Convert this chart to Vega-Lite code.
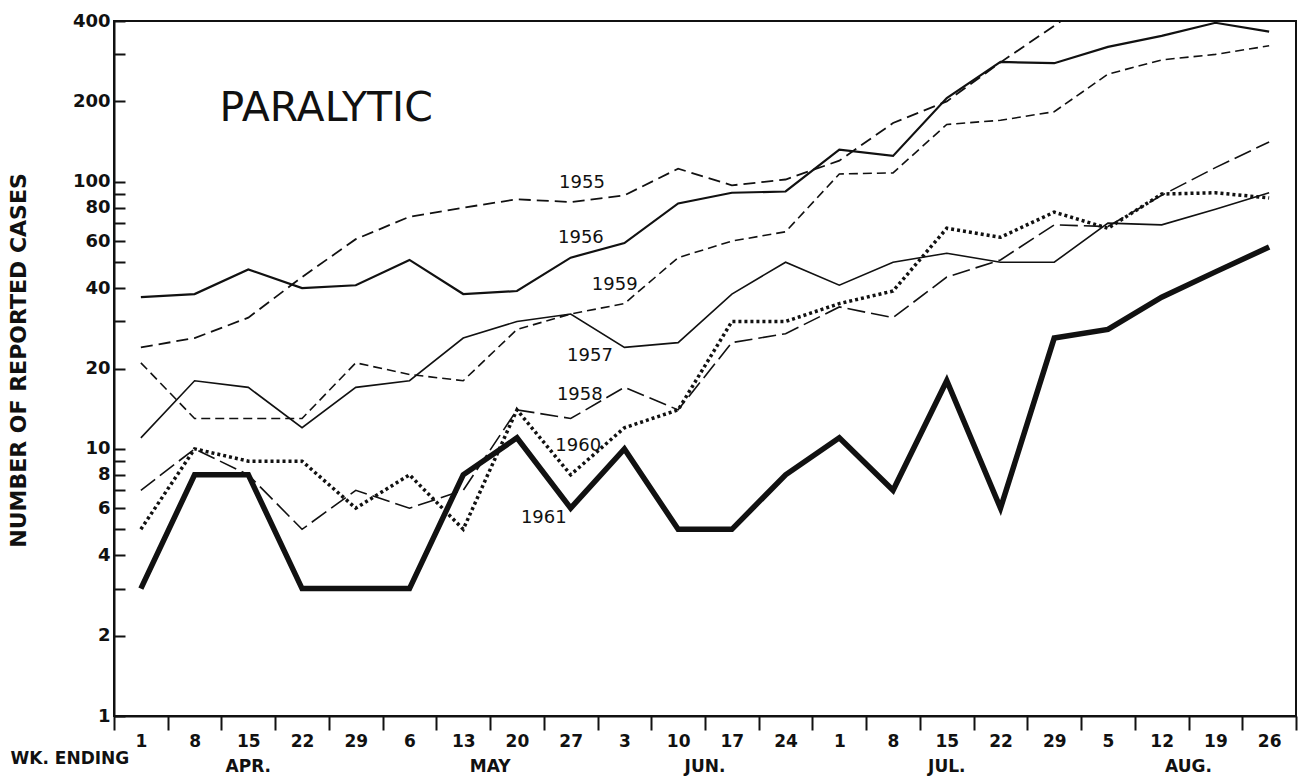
{
  "$schema": "https://vega.github.io/schema/vega-lite/v6.json",
  "autosize": {"type": "none"},
  "padding": {"left": 114, "top": 21, "right": 18, "bottom": 64},
  "width": 1182,
  "height": 695,
  "background": "#ffffff",
  "config": {"view": {"stroke": "#111111", "strokeWidth": 2}, "font": "DejaVu Sans"},
  "datasets": {
    "cases": [
      {"year":"1955","wk":0,"cases":24},{"year":"1955","wk":1,"cases":26},{"year":"1955","wk":2,"cases":31},{"year":"1955","wk":3,"cases":44},{"year":"1955","wk":4,"cases":61},{"year":"1955","wk":5,"cases":74},{"year":"1955","wk":6,"cases":80},{"year":"1955","wk":7,"cases":86},{"year":"1955","wk":8,"cases":84},{"year":"1955","wk":9,"cases":89},{"year":"1955","wk":10,"cases":112},{"year":"1955","wk":11,"cases":97},{"year":"1955","wk":12,"cases":102},{"year":"1955","wk":13,"cases":120},{"year":"1955","wk":14,"cases":166},{"year":"1955","wk":15,"cases":200},{"year":"1955","wk":16,"cases":280},{"year":"1955","wk":17,"cases":384},{"year":"1955","wk":18,"cases":530},
      {"year":"1956","wk":0,"cases":37},{"year":"1956","wk":1,"cases":38},{"year":"1956","wk":2,"cases":47},{"year":"1956","wk":3,"cases":40},{"year":"1956","wk":4,"cases":41},{"year":"1956","wk":5,"cases":51},{"year":"1956","wk":6,"cases":38},{"year":"1956","wk":7,"cases":39},{"year":"1956","wk":8,"cases":52},{"year":"1956","wk":9,"cases":59},{"year":"1956","wk":10,"cases":83},{"year":"1956","wk":11,"cases":91},{"year":"1956","wk":12,"cases":92},{"year":"1956","wk":13,"cases":132},{"year":"1956","wk":14,"cases":125},{"year":"1956","wk":15,"cases":206},{"year":"1956","wk":16,"cases":281},{"year":"1956","wk":17,"cases":278},{"year":"1956","wk":18,"cases":320},{"year":"1956","wk":19,"cases":352},{"year":"1956","wk":20,"cases":394},{"year":"1956","wk":21,"cases":365},
      {"year":"1957","wk":0,"cases":11},{"year":"1957","wk":1,"cases":18},{"year":"1957","wk":2,"cases":17},{"year":"1957","wk":3,"cases":12},{"year":"1957","wk":4,"cases":17},{"year":"1957","wk":5,"cases":18},{"year":"1957","wk":6,"cases":26},{"year":"1957","wk":7,"cases":30},{"year":"1957","wk":8,"cases":32},{"year":"1957","wk":9,"cases":24},{"year":"1957","wk":10,"cases":25},{"year":"1957","wk":11,"cases":38},{"year":"1957","wk":12,"cases":50},{"year":"1957","wk":13,"cases":41},{"year":"1957","wk":14,"cases":50},{"year":"1957","wk":15,"cases":54},{"year":"1957","wk":16,"cases":50},{"year":"1957","wk":17,"cases":50},{"year":"1957","wk":18,"cases":70},{"year":"1957","wk":19,"cases":69},{"year":"1957","wk":20,"cases":79},{"year":"1957","wk":21,"cases":91},
      {"year":"1958","wk":0,"cases":7},{"year":"1958","wk":1,"cases":10},{"year":"1958","wk":2,"cases":8},{"year":"1958","wk":3,"cases":5},{"year":"1958","wk":4,"cases":7},{"year":"1958","wk":5,"cases":6},{"year":"1958","wk":6,"cases":7},{"year":"1958","wk":7,"cases":14},{"year":"1958","wk":8,"cases":13},{"year":"1958","wk":9,"cases":17},{"year":"1958","wk":10,"cases":14},{"year":"1958","wk":11,"cases":25},{"year":"1958","wk":12,"cases":27},{"year":"1958","wk":13,"cases":34},{"year":"1958","wk":14,"cases":31},{"year":"1958","wk":15,"cases":44},{"year":"1958","wk":16,"cases":51},{"year":"1958","wk":17,"cases":69},{"year":"1958","wk":18,"cases":68},{"year":"1958","wk":19,"cases":89},{"year":"1958","wk":20,"cases":113},{"year":"1958","wk":21,"cases":141},
      {"year":"1959","wk":0,"cases":21},{"year":"1959","wk":1,"cases":13},{"year":"1959","wk":2,"cases":13},{"year":"1959","wk":3,"cases":13},{"year":"1959","wk":4,"cases":21},{"year":"1959","wk":5,"cases":19},{"year":"1959","wk":6,"cases":18},{"year":"1959","wk":7,"cases":28},{"year":"1959","wk":8,"cases":32},{"year":"1959","wk":9,"cases":35},{"year":"1959","wk":10,"cases":52},{"year":"1959","wk":11,"cases":60},{"year":"1959","wk":12,"cases":65},{"year":"1959","wk":13,"cases":107},{"year":"1959","wk":14,"cases":108},{"year":"1959","wk":15,"cases":164},{"year":"1959","wk":16,"cases":170},{"year":"1959","wk":17,"cases":183},{"year":"1959","wk":18,"cases":253},{"year":"1959","wk":19,"cases":286},{"year":"1959","wk":20,"cases":300},{"year":"1959","wk":21,"cases":323},
      {"year":"1960","wk":0,"cases":5},{"year":"1960","wk":1,"cases":10},{"year":"1960","wk":2,"cases":9},{"year":"1960","wk":3,"cases":9},{"year":"1960","wk":4,"cases":6},{"year":"1960","wk":5,"cases":8},{"year":"1960","wk":6,"cases":5},{"year":"1960","wk":7,"cases":14},{"year":"1960","wk":8,"cases":8},{"year":"1960","wk":9,"cases":12},{"year":"1960","wk":10,"cases":14},{"year":"1960","wk":11,"cases":30},{"year":"1960","wk":12,"cases":30},{"year":"1960","wk":13,"cases":35},{"year":"1960","wk":14,"cases":39},{"year":"1960","wk":15,"cases":67},{"year":"1960","wk":16,"cases":62},{"year":"1960","wk":17,"cases":77},{"year":"1960","wk":18,"cases":67},{"year":"1960","wk":19,"cases":90},{"year":"1960","wk":20,"cases":91},{"year":"1960","wk":21,"cases":87},
      {"year":"1961","wk":0,"cases":3},{"year":"1961","wk":1,"cases":8},{"year":"1961","wk":2,"cases":8},{"year":"1961","wk":3,"cases":3},{"year":"1961","wk":4,"cases":3},{"year":"1961","wk":5,"cases":3},{"year":"1961","wk":6,"cases":8},{"year":"1961","wk":7,"cases":11},{"year":"1961","wk":8,"cases":6},{"year":"1961","wk":9,"cases":10},{"year":"1961","wk":10,"cases":5},{"year":"1961","wk":11,"cases":5},{"year":"1961","wk":12,"cases":8},{"year":"1961","wk":13,"cases":11},{"year":"1961","wk":14,"cases":7},{"year":"1961","wk":15,"cases":18},{"year":"1961","wk":16,"cases":6},{"year":"1961","wk":17,"cases":26},{"year":"1961","wk":18,"cases":28},{"year":"1961","wk":19,"cases":37},{"year":"1961","wk":20,"cases":46},{"year":"1961","wk":21,"cases":57}
    ],
    "yearLabels": [
      {"text":"1955","wk":8.21,"cases":99},
      {"text":"1956","wk":8.19,"cases":61.6},
      {"text":"1959","wk":8.82,"cases":41.1},
      {"text":"1957","wk":8.36,"cases":22.3},
      {"text":"1958","wk":8.17,"cases":15.9},
      {"text":"1960","wk":8.14,"cases":10.25},
      {"text":"1961","wk":7.5,"cases":5.51}
    ],
    "heading": [{"text":"PARALYTIC","wk":3.45,"cases":188}],
    "months": [
      {"month":"APR.","wk":2},
      {"month":"MAY","wk":6.5},
      {"month":"JUN.","wk":10.5},
      {"month":"JUL.","wk":15},
      {"month":"AUG.","wk":19.5}
    ]
  },
  "encoding": {
    "x": {
      "field": "wk", "type": "quantitative",
      "scale": {"domain": [-0.5, 21.5], "nice": false, "zero": false},
      "axis": {
        "title": "WK. ENDING",
        "values": [-0.5,0.5,1.5,2.5,3.5,4.5,5.5,6.5,7.5,8.5,9.5,10.5,11.5,12.5,13.5,14.5,15.5,16.5,17.5,18.5,19.5,20.5,21.5],
        "labelExpr": "datum.value < 21 ? ['1','8','15','22','29','6','13','20','27','3','10','17','24','1','8','15','22','29','5','12','19','26'][round(datum.value + 0.5)] : ''",
        "labelOffset": 26.86,
        "labelFlush": false, "labelOverlap": false, "labelBound": false,
        "grid": false,
        "tickSize": 14, "tickWidth": 2, "tickColor": "#111111",
        "domainColor": "#111111", "domainWidth": 2,
        "labelPadding": 3, "labelFont": "DejaVu Sans", "labelFontWeight": "bold", "labelFontSize": 17, "labelColor": "#111111",
        "titleX": -104, "titleY": 42, "titleAlign": "left", "titleBaseline": "middle", "titleAnchor": "start",
        "titleFont": "DejaVu Sans", "titleFontSize": 17, "titleFontWeight": "bold", "titleColor": "#111111"
      }
    }
  },
  "layer": [
    {"data": {"name": "cases"}, "transform": [{"filter": "datum.year == '1955'"}], "mark": {"type": "line", "stroke": "#111111", "strokeWidth": 1.8, "strokeDash": [12, 6], "clip": true},
     "encoding": {"y": {
        "field": "cases", "type": "quantitative",
        "scale": {"type": "log", "domain": [1, 400], "nice": false},
        "axis": {
          "title": "NUMBER OF REPORTED CASES",
          "values": [1,2,3,4,5,6,7,8,9,10,20,30,40,50,60,70,80,90,100,200,300,400],
          "labelExpr": "indexof([1,2,4,6,8,10,20,40,60,80,100,200,400], datum.value) >= 0 ? '' + datum.value : ''",
          "labelFlush": false, "labelOverlap": false, "labelBound": false,
          "grid": false,
          "tickSize": -11, "tickWidth": 2, "tickColor": "#111111",
          "domainColor": "#111111", "domainWidth": 2,
          "labelPadding": 15, "labelFont": "DejaVu Sans", "labelFontWeight": "bold", "labelFontSize": 18, "labelColor": "#111111",
          "titleAngle": -90, "titleX": -96, "titleY": 339, "titleAlign": "center", "titleBaseline": "middle",
          "titleFont": "DejaVu Sans", "titleFontSize": 22, "titleFontWeight": "bold", "titleColor": "#111111"
        }}}},
    {"data": {"name": "cases"}, "transform": [{"filter": "datum.year == '1956'"}], "mark": {"type": "line", "stroke": "#111111", "strokeWidth": 2.2}, "encoding": {"y": {"field": "cases", "type": "quantitative"}}},
    {"data": {"name": "cases"}, "transform": [{"filter": "datum.year == '1957'"}], "mark": {"type": "line", "stroke": "#111111", "strokeWidth": 1.6}, "encoding": {"y": {"field": "cases", "type": "quantitative"}}},
    {"data": {"name": "cases"}, "transform": [{"filter": "datum.year == '1958'"}], "mark": {"type": "line", "stroke": "#111111", "strokeWidth": 1.6, "strokeDash": [18, 6]}, "encoding": {"y": {"field": "cases", "type": "quantitative"}}},
    {"data": {"name": "cases"}, "transform": [{"filter": "datum.year == '1959'"}], "mark": {"type": "line", "stroke": "#111111", "strokeWidth": 1.6, "strokeDash": [9, 5]}, "encoding": {"y": {"field": "cases", "type": "quantitative"}}},
    {"data": {"name": "cases"}, "transform": [{"filter": "datum.year == '1960'"}], "mark": {"type": "line", "stroke": "#111111", "strokeWidth": 3.5, "strokeDash": [3, 3]}, "encoding": {"y": {"field": "cases", "type": "quantitative"}}},
    {"data": {"name": "cases"}, "transform": [{"filter": "datum.year == '1961'"}], "mark": {"type": "line", "stroke": "#111111", "strokeWidth": 5.5, "strokeJoin": "miter"}, "encoding": {"y": {"field": "cases", "type": "quantitative"}}},
    {"data": {"name": "yearLabels"}, "mark": {"type": "text", "font": "DejaVu Sans", "fontSize": 18, "color": "#111111", "align": "center", "baseline": "middle"}, "encoding": {"y": {"field": "cases", "type": "quantitative"}, "text": {"field": "text"}}},
    {"data": {"name": "heading"}, "mark": {"type": "text", "font": "DejaVu Sans", "fontSize": 41, "color": "#111111", "align": "center", "baseline": "middle"}, "encoding": {"y": {"field": "cases", "type": "quantitative"}, "text": {"field": "text"}}},
    {"data": {"name": "months"}, "mark": {"type": "text", "font": "DejaVu Sans", "fontSize": 17, "fontWeight": "bold", "color": "#111111", "align": "center", "baseline": "middle"}, "encoding": {"y": {"datum": 0.644}, "text": {"field": "month"}}}
  ]
}
